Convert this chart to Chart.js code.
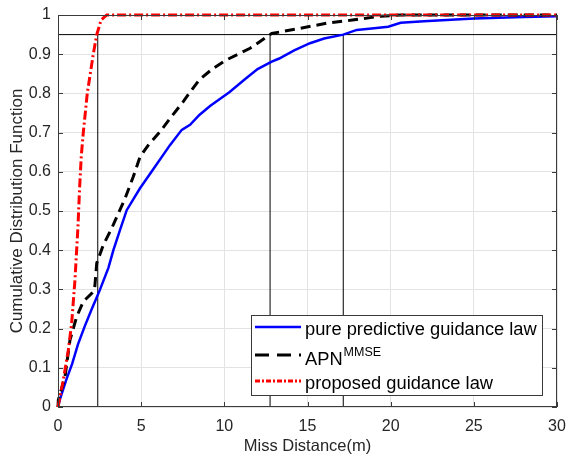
<!DOCTYPE html>
<html><head><meta charset="utf-8">
<script src="https://cdn.jsdelivr.net/npm/chart.js@4"></script>
<style>html,body{margin:0;padding:0;background:#fff;}</style>
</head><body>
<canvas id="c" width="567" height="456"></canvas>
<script>
// ---- data ----
const xTicks = [0, 5, 10, 15, 20, 25, 30];
const yTicks = [0, 0.1, 0.2, 0.3, 0.4, 0.5, 0.6, 0.7, 0.8, 0.9, 1];
const yTickLabels = ['0', '0.1', '0.2', '0.3', '0.4', '0.5', '0.6', '0.7', '0.8', '0.9', '1'];
const xTitle = 'Miss Distance(m)';
const yTitle = 'Cumulative Distribution Function';
const seriesNames = ['pure predictive guidance law', 'APN', 'proposed guidance law'];
const seriesSup = ['', 'MMSE', ''];

const pureX = [0, 0.12, 0.5, 0.85, 1.2, 1.6, 2.03, 2.39, 2.53, 3.03, 3.33, 3.73, 4.13, 4.93, 5.83, 6.73, 7.44, 7.94, 8.5, 9.14, 10.3, 11.2, 12.0, 12.85, 13.3, 14.2, 15.15, 16.0, 17.15, 17.96, 19.0, 19.85, 20.6, 22.0, 25.0, 28.0, 30];
const pureY = [0, 0.02, 0.07, 0.11, 0.16, 0.205, 0.25, 0.286, 0.3, 0.355, 0.4, 0.452, 0.502, 0.558, 0.613, 0.668, 0.707, 0.72, 0.745, 0.768, 0.803, 0.835, 0.862, 0.881, 0.889, 0.91, 0.928, 0.94, 0.95, 0.962, 0.966, 0.97, 0.98, 0.984, 0.991, 0.995, 0.997];

const apnX = [0, 0.02, 0.42, 0.72, 1.12, 1.52, 2.03, 2.2, 2.33, 2.72, 3.23, 4.03, 4.53, 4.93, 5.43, 6.13, 6.73, 7.53, 7.88, 8.5, 9.3, 10.1, 11.55, 12.85, 14.55, 16.15, 17.7, 19.4, 20.6, 30];
const apnY = [0, 0.018, 0.077, 0.171, 0.23, 0.269, 0.29, 0.3, 0.367, 0.413, 0.456, 0.532, 0.588, 0.638, 0.668, 0.702, 0.736, 0.779, 0.8, 0.835, 0.863, 0.885, 0.915, 0.953, 0.966, 0.979, 0.987, 0.997, 1.0, 1.0];

const propX = [0, 0.32, 0.62, 0.82, 1.02, 1.2, 1.3, 1.4, 1.52, 1.76, 2.12, 2.33, 2.59, 2.93, 30];
const propY = [0, 0.069, 0.145, 0.213, 0.324, 0.46, 0.56, 0.64, 0.7, 0.8, 0.9, 0.95, 0.987, 1.0, 1.0];

const refLevel = 0.95;
const refX = [2.39, 12.75, 17.15];

// ---- build ----
const zip = (xs, ys) => xs.map((x, i) => ({x: x, y: ys[i]}));
const refDatasets = [
  {data: [{x: 0, y: refLevel}, {x: 30, y: refLevel}]}
].concat(refX.map(x => ({data: [{x: x, y: 0}, {x: x, y: refLevel}]}))).map(d => Object.assign(d, {
  borderColor: '#000', borderWidth: 1, pointRadius: 0, order: 5, clip: false
}));

const colors = ['#0000ff', '#000000', '#ff0000'];
const dashes = [[], [10, 6], [9, 3, 2, 3]];
const widths = [2.5, 3, 3];

const mainDatasets = [
  {label: seriesNames[0], data: zip(pureX, pureY), order: 3},
  {label: seriesNames[1], data: zip(apnX, apnY), order: 2},
  {label: seriesNames[2], data: zip(propX, propY), order: 1}
].map((d, i) => Object.assign(d, {
  borderColor: colors[i], borderWidth: widths[i], borderDash: dashes[i],
  pointRadius: 0, tension: 0, clip: 4
}));

const FONT = '"Liberation Sans", Arial, sans-serif';
const boxColor = '#3a3a3a';
const framePlugin = {
  id: 'frame',
  afterDatasetsDraw(chart) {
    const {ctx, chartArea: a, scales: {x, y}} = chart;
    ctx.save();
    ctx.strokeStyle = boxColor;
    ctx.lineWidth = 1;
    ctx.strokeRect(a.left + 0.5, a.top + 0.5, a.right - a.left - 1, a.bottom - a.top - 1);
    ctx.beginPath();
    const tl = 5;
    xTicks.forEach(v => {
      const px = Math.round(x.getPixelForValue(v)) + 0.5;
      ctx.moveTo(px, a.bottom); ctx.lineTo(px, a.bottom - tl);
      ctx.moveTo(px, a.top); ctx.lineTo(px, a.top + tl);
    });
    yTicks.forEach(v => {
      const py = Math.round(y.getPixelForValue(v)) + 0.5;
      ctx.moveTo(a.left, py); ctx.lineTo(a.left + tl, py);
      ctx.moveTo(a.right, py); ctx.lineTo(a.right - tl, py);
    });
    ctx.stroke();

    // legend
    const L = a.left + 193, T = a.top + 300, W = 291, H = 80;
    ctx.fillStyle = '#fff';
    ctx.fillRect(L, T, W, H);
    ctx.strokeStyle = boxColor;
    ctx.strokeRect(L + 0.5, T + 0.5, W, H);
    const rows = [T + 12, T + 40, T + 66];
    const legDash = [[], [14, 8], [5, 2, 2, 2]];
    rows.forEach((ry, i) => {
      ctx.save();
      ctx.strokeStyle = colors[i];
      ctx.lineWidth = widths[i];
      ctx.setLineDash(legDash[i]);
      ctx.beginPath();
      ctx.moveTo(L + 4, ry); ctx.lineTo(L + 50, ry);
      ctx.stroke();
      ctx.restore();
      ctx.fillStyle = '#000';
      ctx.textBaseline = 'alphabetic';
      ctx.textAlign = 'left';
      ctx.font = '18.3px ' + FONT;
      const tx = L + 54;
      if (seriesSup[i]) {
        ctx.fillText(seriesNames[i], tx, ry + 10);
        const w = ctx.measureText(seriesNames[i]).width;
        ctx.font = '12.5px ' + FONT;
        ctx.fillText(seriesSup[i], tx + w + 1, ry + 0.5);
      } else {
        ctx.fillText(seriesNames[i], tx, ry + 7.5);
      }
    });
    ctx.restore();
  }
};

new Chart(document.getElementById('c'), {
  type: 'line',
  data: {datasets: mainDatasets.concat(refDatasets)},
  options: {
    responsive: false,
    animation: false,
    devicePixelRatio: 1,
    layout: {padding: {left: 0, right: 10, top: 15, bottom: 0}},
    plugins: {legend: {display: false}, tooltip: {enabled: false}},
    scales: {
      x: {
        type: 'linear', min: 0, max: 30,
        afterFit(s) { s.height = 49; s.paddingLeft = 0; s.paddingRight = 0; },
        afterBuildTicks(s) { s.ticks = xTicks.map(v => ({value: v})); },
        ticks: {color: '#262626', padding: 10, font: {size: 16, family: FONT}, maxRotation: 0,
          callback: v => String(v)},
        grid: {color: '#e3e3e3', drawTicks: false},
        border: {display: false},
        title: {display: true, text: xTitle, color: '#262626', padding: {top: 0, bottom: 1},
          font: {size: 16.5, family: FONT, lineHeight: 1}}
      },
      y: {
        type: 'linear', min: 0, max: 1,
        afterFit(s) { s.width = 58; s.paddingTop = 0; s.paddingBottom = 0; },
        afterBuildTicks(s) { s.ticks = yTicks.map(v => ({value: v})); },
        ticks: {color: '#262626', padding: 7, font: {size: 16, family: FONT},
          callback: (v, i) => yTickLabels[i]},
        grid: {color: '#e3e3e3', drawTicks: false},
        border: {display: false},
        title: {display: true, text: yTitle, color: '#262626', padding: {top: 7, bottom: 0},
          font: {size: 17, family: FONT}}
      }
    }
  },
  plugins: [framePlugin]
});
</script>
</body></html>
